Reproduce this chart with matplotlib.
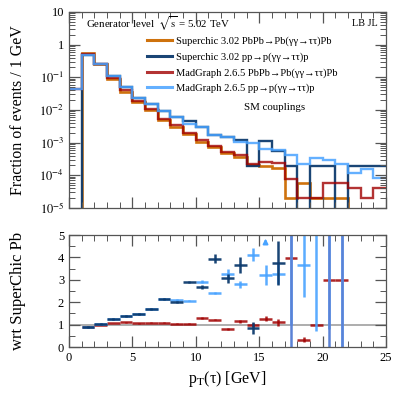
import numpy as np
import matplotlib
matplotlib.use("Agg")
import matplotlib.pyplot as plt
from matplotlib.ticker import MultipleLocator

plt.rcParams['font.family'] = ['Liberation Serif', 'DejaVu Serif']
plt.rcParams['mathtext.fontset'] = 'stix'

# ---------------- data ----------------
bin_edges = np.arange(0, 26, 1)

sc_pb = [0, 0.544, 0.251, 0.0889, 0.0363, 0.0172, 0.0100, 0.00494, 0.00308, 0.00181,
         0.00107, 0.000753, 0.000473, 0.000372, 0.000207, 0.000193, 0.000171, 1.99e-5,
         5.96e-5, 1.99e-5, 1.99e-5, 1.99e-5, 0, 0, 0]
sc_pp = [0, 0.483, 0.251, 0.112, 0.0506, 0.0238, 0.0153, 0.00953, 0.00598, 0.00471,
         0.00296, 0.00172, 0.00152, 0.00121, 0.000197, 0.00115, 0.000556, 0.000197,
         0, 0.000197, 0.000197, 0, 0.000197, 0.000197, 0.000197]
mg_pb = [0.0440, 0.518, 0.251, 0.0955, 0.0409, 0.0189, 0.0107, 0.00531, 0.00336, 0.00194,
         0.00121, 0.000791, 0.000501, 0.000420, 0.000215, 0.000262, 0.000234, 7.57e-5,
         1.99e-5, 1.99e-5, 5.96e-5, 5.96e-5, 4.02e-5, 1.99e-5, 4.02e-5]
mg_pp = [0.0440, 0.483, 0.251, 0.112, 0.0506, 0.0238, 0.0153, 0.00953, 0.00598, 0.00373,
         0.00296, 0.00172, 0.00152, 0.00103, 0.000957, 0.000627, 0.000597, 0.000429,
         0.000218, 0.000333, 0.000295, 0.000218, 0.000121, 0.000153, 8.13e-5]

nan = np.nan
# ratios with respect to SuperChic PbPb (values > 5 are off scale)
r_sc_pp = [nan, 0.88, 1.03, 1.24, 1.40, 1.49, 1.70, 2.15, 2.01, 2.90, 2.68, 3.95, 3.07,
           3.65, 0.85, nan, 3.75, 10, nan, nan, 10, 10, nan, nan, nan]
e_sc_pp = [0, 0.04, 0.04, 0.05, 0.05, 0.05, 0.06, 0.05, 0.06, 0.06, 0.08, 0.18, 0.20,
           0.35, 0.27, 0, 1.0, 10, 0, 0, 10, 10, 0, 0, 0]
r_mg_pp = [nan, 0.88, 1.03, 1.24, 1.40, 1.49, 1.70, 2.16, 2.10, 2.07, 2.92, 2.40, 3.28,
           2.80, 4.12, 3.22, 3.25, 21, 3.65, 16.7, 14.8, 11, nan, nan, nan]
e_mg_pp = [0, 0.03, 0.03, 0.04, 0.04, 0.05, 0.05, 0.03, 0.03, 0.03, 0.05, 0.05, 0.20,
           0.15, 0.30, 0.45, 0.45, 20, 1.4, 16, 14, 11, 0, 0, 0]
r_mg_pb = [nan, 0.90, 1.00, 1.07, 1.10, 1.06, 1.09, 1.09, 1.04, 1.03, 1.30, 1.22, 0.81,
           1.15, 0.97, 1.27, 1.10, 3.98, 0.33, 1.00, 3.00, 3.00, nan, nan, nan]
e_mg_pb = [0, 0.02, 0.02, 0.02, 0.02, 0.02, 0.02, 0.02, 0.02, 0.02, 0.04, 0.03, 0.03,
           0.07, 0.08, 0.13, 0.15, 0, 0.12, 0, 0, 0, 0, 0, 0]
arrow_bin = 15  # SuperChic pp ratio off scale in this bin

labels = ["Superchic 3.02 PbPb\u2192Pb(\u03b3\u03b3\u2192\u03c4\u03c4)Pb",
          "Superchic 3.02 pp\u2192p(\u03b3\u03b3\u2192\u03c4\u03c4)p",
          "MadGraph 2.6.5 PbPb\u2192Pb(\u03b3\u03b3\u2192\u03c4\u03c4)Pb",
          "MadGraph 2.6.5 pp\u2192p(\u03b3\u03b3\u2192\u03c4\u03c4)p"]

c_orange = '#cc6a00'
c_navy = '#0d3b6e'
c_red = '#a00000'
c_light = '#49a3ff'
c_mid = '#5b82d6'

# ---------------- figure ----------------
W, H = 407, 399
fig = plt.figure(figsize=(W / 100, H / 100), dpi=100)
L, R = 69, 386
ax = fig.add_axes([L / W, 1 - 208 / H, (R - L) / W, (208 - 12) / H])
axr = fig.add_axes([L / W, 1 - 347 / H, (R - L) / W, (347 - 235) / H])

edges = bin_edges
ax.stairs(sc_pb, edges, color=c_orange, lw=1.9, alpha=0.95, baseline=None)
ax.stairs(sc_pp, edges, color=c_navy, lw=1.7, alpha=0.95, baseline=None)
ax.stairs(mg_pb, edges, color=c_red, lw=1.7, alpha=0.8, baseline=None)
ax.stairs(mg_pp, edges, color=c_light, lw=1.7, alpha=0.85, baseline=None)

ax.set_yscale('log', nonpositive='clip')
ax.set_xlim(0, 25)
ax.set_ylim(1e-5, 10)
ax.set_yticks([1e-5, 1e-4, 1e-3, 1e-2, 1e-1, 1, 10])
ax.set_yticklabels([r'$10^{-5}$', r'$10^{-4}$', r'$10^{-3}$', r'$10^{-2}$',
                    r'$10^{-1}$', '1', '10'])
ax.xaxis.set_major_locator(MultipleLocator(5))
ax.xaxis.set_minor_locator(MultipleLocator(1))
ax.set_xticklabels([])
ax.set_ylabel('Fraction of events / 1 GeV', fontsize=11.5)
ax.yaxis.set_label_coords(-0.135, 0.5)

for a in (ax, axr):
    a.tick_params(which='both', direction='in', top=True, right=True, labelsize=9,
                  color='#555555')
    a.tick_params(which='major', length=8, width=0.9)
    a.tick_params(which='minor', length=4, width=0.7)
    for s in a.spines.values():
        s.set_color('#555555')
        s.set_linewidth(0.9)

handles = [plt.Line2D([], [], color=c, lw=2.2, alpha=al)
           for c, al in [(c_orange, 0.95), (c_navy, 0.95), (c_red, 0.8), (c_light, 0.85)]]
ax.legend(handles, labels, loc='upper left', bbox_to_anchor=((147 - L) / (R - L), 0.875),
          frameon=False, fontsize=7.6, handlelength=2.4, handletextpad=0.3,
          labelspacing=0.58, borderaxespad=0, borderpad=0)
ax.text(0.055, 0.94, r'Generator level  $\sqrt{\mathrm{s}}$ = 5.02 TeV',
        transform=ax.transAxes, fontsize=7.8, va='center', ha='left')
ax.text(0.975, 0.94, 'LB JL', transform=ax.transAxes, fontsize=7.4, va='center', ha='right')
ax.text(0.65, 0.515, 'SM couplings', transform=ax.transAxes, fontsize=7.8,
        va='center', ha='center')

# ---------------- ratio ----------------
centers = 0.5 * (bin_edges[:-1] + bin_edges[1:])
axr.axhline(1, color='#a0a0a0', lw=1.2, zorder=1)
kw = dict(xerr=0.5, fmt='none', elinewidth=1.8, capsize=0)
axr.errorbar(centers, r_mg_pb, yerr=e_mg_pb, ecolor=c_red, alpha=0.85, **kw)
axr.errorbar(centers, r_mg_pp, yerr=e_mg_pp, ecolor=c_light, alpha=0.9, **kw)
rs = np.array(r_sc_pp, dtype=float)
es = np.array(e_sc_pp, dtype=float)
on = rs <= 5
axr.errorbar(centers[on], rs[on], yerr=es[on], ecolor=c_navy, alpha=0.95, **kw)
off = rs > 5
axr.errorbar(centers[off], rs[off], yerr=es[off], fmt='none', elinewidth=1.8,
             ecolor=c_mid, capsize=0)
axr.annotate('', xy=(centers[arrow_bin], 4.97), xytext=(centers[arrow_bin], 4.5),
             arrowprops=dict(arrowstyle='-|>', color=c_light, lw=1.4,
                             mutation_scale=7))

axr.set_xlim(0, 25)
axr.set_ylim(0, 5)
axr.xaxis.set_major_locator(MultipleLocator(5))
axr.xaxis.set_minor_locator(MultipleLocator(1))
axr.yaxis.set_major_locator(MultipleLocator(1))
axr.yaxis.set_minor_locator(MultipleLocator(0.5))
axr.set_ylabel('wrt SuperChic Pb', fontsize=12)
axr.yaxis.set_label_coords(-0.135, 0.5)
axr.set_xlabel(r'p$_{\mathrm{T}}$(τ) [GeV]', fontsize=11.5)

fig.savefig('out.png', dpi=100)
